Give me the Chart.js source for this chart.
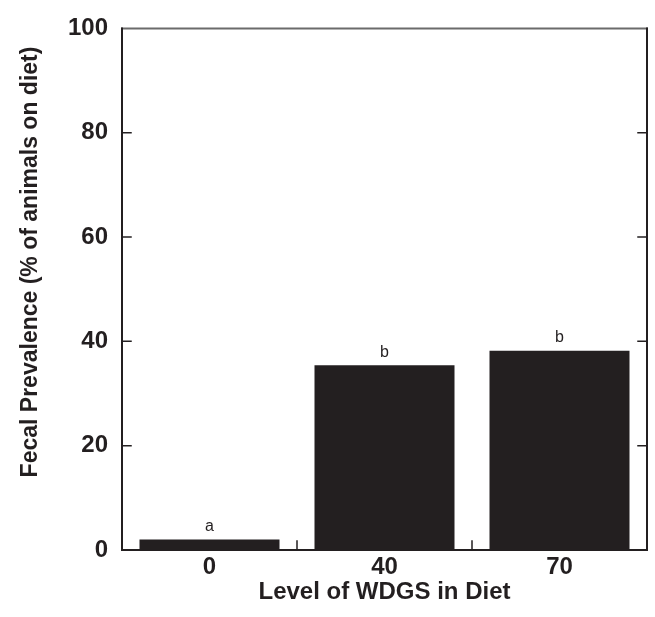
<!DOCTYPE html>
<html lang="en">
<head>
  <meta charset="UTF-8">
  <title>Fecal Prevalence by WDGS Level</title>
  <script src="https://cdn.jsdelivr.net/npm/chart.js"></script>
  <style>
    body {
      margin: 0;
      background: #fff;
    }
    .wrap {
      width: 655px;
      height: 617px;
    }
  </style>
</head>
<body>

<div class="wrap">
  <canvas id="mainChart" width="655" height="617"></canvas>
</div>

<script>
// data
const categories = ['0', '40', '70'];
const prevalence = [2.0, 35.4, 38.2];
const sigLetters = ['a', 'b', 'b'];
const yTickValues = [0, 20, 40, 60, 80, 100];

const ink = '#231f20';
const fontFam = "'Liberation Sans', Arial, sans-serif";

// frame, inward tick marks, letters over bars, y title
const framePlugin = {
  id: 'frame',
  afterDraw(chart) {
    const ctx = chart.ctx;
    const a = chart.chartArea;
    const xs = chart.scales.x;
    const ys = chart.scales.y;
    const tl = 9;

    ctx.save();
    ctx.lineCap = 'square';

    // top line (grey)
    ctx.strokeStyle = '#6b6b6b';
    ctx.lineWidth = 2;
    ctx.beginPath();
    ctx.moveTo(a.left, a.top);
    ctx.lineTo(a.right, a.top);
    ctx.stroke();

    ctx.strokeStyle = ink;
    ctx.lineWidth = 2;
    ctx.beginPath();
    ctx.moveTo(a.left, a.top);
    ctx.lineTo(a.left, a.bottom);
    ctx.lineTo(a.right, a.bottom);
    ctx.moveTo(a.right, a.top);
    ctx.lineTo(a.right, a.bottom);
    ctx.stroke();

    // y ticks on both sides, pointing in
    ctx.lineWidth = 1.5;
    ctx.beginPath();
    yTickValues.slice(1, -1).forEach(v => {
      const y = ys.getPixelForValue(v);
      ctx.moveTo(a.left, y);
      ctx.lineTo(a.left + tl, y);
      ctx.moveTo(a.right, y);
      ctx.lineTo(a.right - tl, y);
    });
    // x ticks between categories
    for (let i = 0; i < categories.length - 1; i++) {
      const x = (xs.getPixelForTick(i) + xs.getPixelForTick(i + 1)) / 2;
      ctx.moveTo(x, a.bottom);
      ctx.lineTo(x, a.bottom - tl);
    }
    ctx.stroke();

    // significance letters
    const bars = chart.getDatasetMeta(0).data;
    ctx.fillStyle = ink;
    ctx.font = '16px ' + fontFam;
    ctx.textAlign = 'center';
    ctx.textBaseline = 'bottom';
    bars.forEach((bar, i) => {
      ctx.fillText(sigLetters[i], bar.x, bar.y - 5);
    });

    // y axis title
    ctx.font = 'bold 23px ' + fontFam;
    ctx.textBaseline = 'middle';
    ctx.translate(31, 262);
    ctx.rotate(-Math.PI / 2);
    ctx.fillText('Fecal Prevalence (% of animals on diet)', 0, 0);
    ctx.restore();
  }
};

new Chart(document.getElementById('mainChart'), {
  type: 'bar',
  data: {
    labels: categories,
    datasets: [{
      data: prevalence,
      backgroundColor: ink,
      borderWidth: 0,
      categoryPercentage: 0.8,
      barPercentage: 1.0
    }]
  },
  options: {
    responsive: false,
    animation: false,
    devicePixelRatio: 1,
    layout: { padding: { left: 0, top: 25, right: 8, bottom: 0 } },
    plugins: {
      legend: { display: false },
      tooltip: { enabled: false }
    },
    scales: {
      x: {
        grid: { display: false, drawTicks: false },
        border: { display: false },
        ticks: {
          color: ink,
          padding: 3,
          font: { family: fontFam, size: 24, weight: 'bold' }
        },
        title: {
          display: true,
          text: 'Level of WDGS in Diet',
          color: ink,
          padding: { top: 0, bottom: 10 },
          font: { family: fontFam, size: 24, weight: 'bold' }
        },
        afterFit(scale) { scale.height = 67; }
      },
      y: {
        min: 0,
        max: 100,
        grid: { display: false, drawTicks: false },
        border: { display: false },
        ticks: {
          stepSize: 20,
          color: ink,
          padding: 14,
          font: { family: fontFam, size: 24, weight: 'bold' }
        },
        afterFit(scale) { scale.width = 122; }
      }
    }
  },
  plugins: [framePlugin]
});
</script>

</body>
</html>
